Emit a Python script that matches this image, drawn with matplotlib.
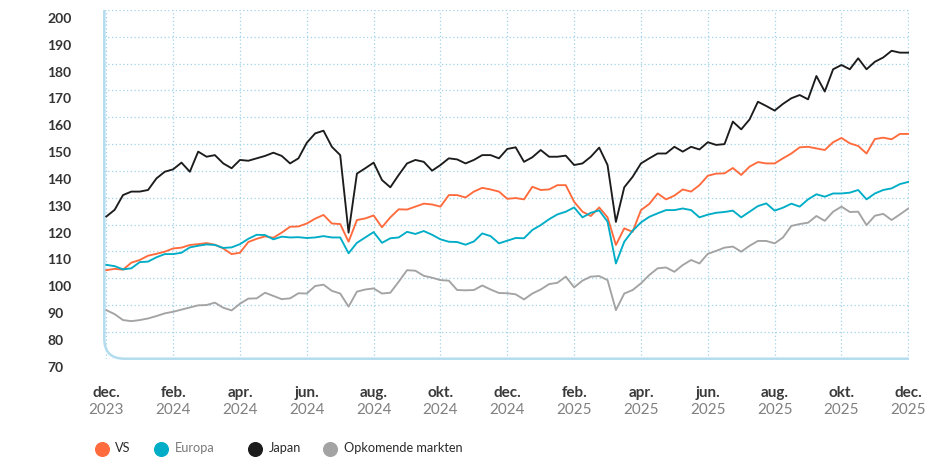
import numpy as np
import matplotlib
matplotlib.use("Agg")
import matplotlib.pyplot as plt
from matplotlib.path import Path
from matplotlib.patches import PathPatch
from matplotlib.lines import Line2D
from matplotlib.transforms import ScaledTranslation, blended_transform_factory

plt.rcParams["font.family"] = ["Lato", "DejaVu Sans"]

# months since end of Dec 2023, quarter-month steps
months = np.arange(0, 24.01, 0.25)

vs = [103.0, 103.5, 103.2, 105.8, 106.8, 108.4, 109.1, 109.9, 111.1, 111.4, 112.4, 112.7, 113.1,
      112.5, 111.1, 109.0, 109.5, 113.5, 114.7, 115.6, 115.1, 117.0, 119.2, 119.3, 120.4,
      122.2, 123.6, 120.4, 120.2, 113.6, 121.7, 122.3, 123.4, 119.0, 122.7, 125.7, 125.6,
      126.7, 127.8, 127.5, 126.7, 131.0, 131.0, 130.1, 132.3, 133.7, 133.1, 132.3, 129.6,
      129.9, 129.4, 134.1, 132.9, 133.1, 134.7, 134.7, 128.5, 124.8, 123.2, 126.4, 122.7,
      112.4, 118.6, 117.3, 125.4, 127.7, 131.6, 129.4, 130.8, 133.1, 132.3, 134.7, 138.2,
      139.0, 139.1, 141.1, 138.5, 141.6, 143.3, 142.8, 142.8, 144.7, 146.5, 148.8, 149.0,
      148.4, 147.8, 150.7, 152.3, 150.3, 149.3, 146.5, 151.9, 152.4, 151.8, 153.8, 153.8]

europa = [105.0, 104.5, 103.3, 103.7, 106.0, 106.2, 107.8, 109.0, 109.0, 109.5, 111.5, 112.1, 112.6,
          112.4, 111.3, 111.5, 112.7, 114.7, 116.2, 116.1, 114.5, 115.5, 115.2, 115.3, 115.0,
          115.2, 115.7, 115.2, 115.2, 109.3, 113.2, 115.2, 117.2, 113.2, 114.9, 115.2, 117.3,
          116.5, 117.6, 116.2, 114.5, 113.6, 113.5, 112.5, 113.7, 116.7, 115.7, 113.0, 114.0,
          115.0, 114.9, 118.0, 119.8, 122.0, 123.8, 124.8, 126.4, 122.7, 124.4, 125.3, 121.1,
          105.5, 113.6, 117.7, 120.8, 122.9, 124.2, 125.4, 125.4, 126.0, 125.4, 122.7, 123.7,
          124.4, 124.7, 125.2, 122.7, 124.8, 126.9, 127.9, 125.2, 126.3, 127.8, 126.7, 129.4,
          131.3, 130.4, 131.6, 131.6, 131.9, 132.9, 129.4, 131.6, 132.9, 133.5, 135.1, 135.9]

japan = [123.0, 125.5, 131.0, 132.3, 132.3, 132.9, 137.2, 139.7, 140.6, 143.1, 139.7, 147.2, 145.3,
         145.9, 142.8, 141.0, 144.1, 143.8, 144.7, 145.6, 146.8, 145.6, 142.8, 144.7, 150.5,
         154.0, 155.0, 149.0, 145.9, 117.0, 139.0, 141.0, 143.1, 136.6, 133.9, 138.5, 142.8,
         144.1, 143.4, 140.1, 142.2, 144.7, 144.3, 142.8, 144.1, 145.9, 145.9, 144.7, 148.2,
         148.8, 143.4, 145.1, 147.8, 145.3, 145.3, 145.7, 142.2, 142.8, 145.3, 148.7, 142.2,
         121.0, 133.9, 137.8, 142.8, 144.7, 146.5, 146.5, 149.0, 147.2, 149.0, 148.0, 150.7,
         149.7, 150.0, 158.4, 155.5, 159.2, 165.8, 164.2, 162.5, 165.0, 167.1, 168.3, 166.7,
         175.4, 169.6, 177.9, 179.5, 177.9, 182.0, 177.9, 180.7, 182.3, 184.8, 184.1, 184.1]

opkomend = [88.1, 86.6, 84.4, 84.0, 84.4, 85.0, 85.9, 86.9, 87.5, 88.3, 89.1, 89.9, 90.0,
            90.9, 89.0, 88.0, 90.5, 92.4, 92.5, 94.6, 93.4, 92.2, 92.5, 94.4, 94.3,
            97.1, 97.6, 95.3, 94.3, 89.4, 95.0, 95.8, 96.2, 94.3, 94.6, 98.7, 103.0,
            102.8, 100.9, 100.2, 99.3, 99.1, 95.6, 95.5, 95.6, 97.3, 95.8, 94.5, 94.4,
            94.0, 92.1, 94.3, 95.8, 97.8, 98.3, 100.6, 96.6, 99.1, 100.6, 100.8, 99.3,
            88.1, 94.3, 95.6, 98.1, 101.2, 103.7, 104.0, 102.4, 104.9, 106.8, 105.5, 109.1,
            110.2, 111.4, 111.8, 109.9, 112.1, 113.9, 113.9, 113.0, 115.2, 119.5, 120.2, 120.7,
            123.2, 121.4, 124.8, 126.7, 124.7, 124.8, 119.8, 123.3, 124.0, 121.7, 123.8, 126.0]

tick_months = list(range(0, 25, 2))
tick_month_names = ["dec.", "feb.", "apr.", "jun.", "aug.", "okt.", "dec.",
                    "feb.", "apr.", "jun.", "aug.", "okt.", "dec."]
tick_years = ["2023", "2024", "2024", "2024", "2024", "2024", "2024",
              "2025", "2025", "2025", "2025", "2025", "2025"]

series = [("VS", vs, "#ff6b3d"), ("Europa", europa, "#00adc6"),
          ("Japan", japan, "#1c1c1c"), ("Opkomende markten", opkomend, "#a3a3a3")]
legend_text_colors = ["#2b2b2b", "#7a7a7a", "#2b2b2b", "#2b2b2b"]

W, H = 933, 467
fig = plt.figure(figsize=(W / 100, H / 100), dpi=100)
left, right, top, bottom = 104.3, 909.0, 10.0, 358.7
ax = fig.add_axes([left / W, 1 - bottom / H, (right - left) / W, (bottom - top) / H])

for name, vals, col in series:
    ax.plot(months, vals, color=col, lw=1.35, zorder=3)

ax.set_xlim(-2 / 33.5, 24 + 0.7 / 33.5)
ax.set_ylim(70, 200)
ax.set_xticks(tick_months)
ax.set_xticklabels([])
ax.set_yticks(range(70, 201, 10))
ax.grid(True, color="#9fd2ea", ls=(0, (1, 2)), lw=0.9)
for s in ax.spines.values():
    s.set_visible(False)
ax.tick_params(axis="x", length=0)
# labels left-aligned at x ~ 47 px
ax.tick_params(axis="y", length=0, pad=(left - 47) * 0.72, labelsize=10, labelcolor="#333333")
shift = ScaledTranslation(0, -8 / 100, fig.dpi_scale_trans)
for lab in ax.get_yticklabels():
    lab.set_fontweight("bold")
    lab.set_horizontalalignment("left")
    lab.set_transform(lab.get_transform() + shift)

# light blue left/bottom border with rounded corner
rx, ry = 20 / (right - left), 20 / (bottom - top)
border = Path([(0, 1), (0, ry), (0, 0), (rx, 0), (1, 0)],
              [Path.MOVETO, Path.LINETO, Path.CURVE3, Path.CURVE3, Path.LINETO])
ax.add_patch(PathPatch(border, transform=ax.transAxes, fill=False,
                       edgecolor="#b4dcef", lw=1.8, clip_on=False, zorder=2))

trans = blended_transform_factory(ax.transData, ax.transAxes)
for m, mn, yr in zip(tick_months, tick_month_names, tick_years):
    ax.text(m, -(393 - bottom) / (bottom - top), mn, transform=trans, ha="center", va="center",
            fontsize=11, fontweight="bold", color="#3a3a3a")
    ax.text(m, -(410 - bottom) / (bottom - top), yr, transform=trans, ha="center", va="center",
            fontsize=11, color="#808080")

# legend
leg_x = [101.7, 161, 255, 330]
for (name, vals, col), lx, tc in zip(series, leg_x, legend_text_colors):
    fig.add_artist(Line2D([lx / W], [1 - 449 / H], marker="o", markersize=9.8, color=col,
                          transform=fig.transFigure, ls="none"))
    fig.text((lx + 13.5) / W, 1 - 448.5 / H, name, ha="left", va="center",
             fontsize=9.2, color=tc)

fig.savefig("out.png", dpi=100)
